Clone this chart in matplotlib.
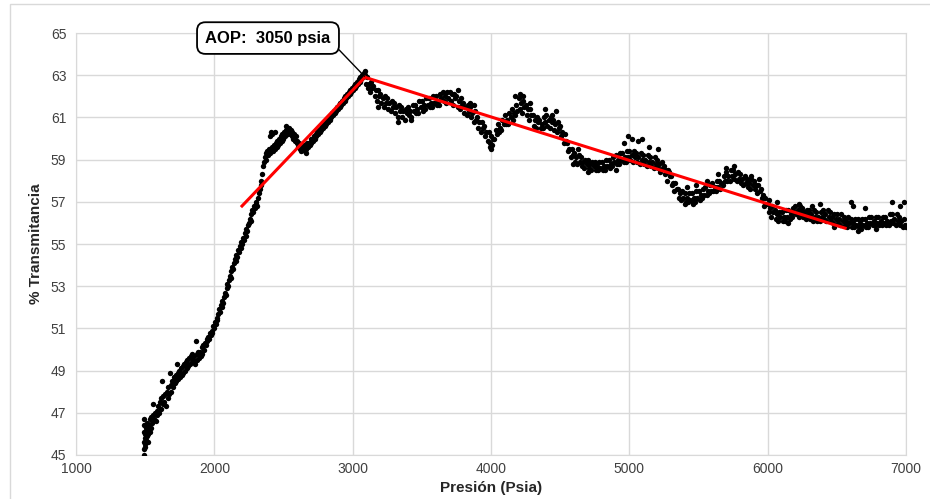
import numpy as np
import matplotlib
matplotlib.use("Agg")
import matplotlib.pyplot as plt
from matplotlib.patches import Rectangle

plt.rcParams['font.family'] = ['Liberation Sans', 'DejaVu Sans']

# Datos (presion psia, % transmitancia)
subida = [
    (1492, 45.0), (1494, 45.3), (1490, 45.6), (1496, 45.8), (1493, 46.1), (1491, 46.4), (1495, 46.7),
    (1498, 45.5), (1500, 46.0), (1502, 45.4), (1504, 46.3), (1506, 45.7), (1509, 46.1), (1512, 45.9),
    (1514, 46.5), (1517, 45.6), (1520, 46.2), (1524, 46.0), (1528, 46.4), (1532, 46.1), (1536, 46.7),
    (1540, 46.3), (1545, 46.8), (1550, 46.5), (1555, 46.9), (1560, 47.4), (1565, 46.7), (1570, 47.0),
    (1576, 46.6), (1582, 47.1), (1588, 46.9), (1594, 47.3), (1600, 47.0), (1606, 47.5), (1612, 47.2),
    (1618, 47.7), (1622, 48.5), (1626, 47.4), (1632, 47.8), (1638, 47.5), (1644, 47.9), (1650, 47.3),
    (1656, 48.0), (1662, 47.7), (1668, 48.2), (1674, 47.9), (1680, 48.9), (1684, 48.3), (1690, 48.0),
    (1696, 48.5), (1702, 48.2), (1708, 48.7), (1714, 48.4), (1720, 48.8), (1726, 48.5), (1730, 49.3),
    (1734, 48.9), (1740, 48.6), (1746, 49.0), (1752, 48.7), (1758, 49.1), (1764, 48.8), (1770, 49.2),
    (1776, 48.9), (1782, 49.3), (1788, 49.0), (1794, 49.4), (1800, 49.1), (1806, 49.5), (1812, 49.2),
    (1818, 49.6), (1824, 49.3), (1830, 49.7), (1836, 49.4), (1842, 49.8), (1848, 49.5), (1854, 49.7),
    (1860, 49.3), (1867, 50.4), (1872, 49.8), (1878, 49.5), (1884, 49.9), (1890, 49.6), (1896, 49.9),
    (1902, 49.7), (1908, 50.1), (1914, 49.8), (1920, 50.2), (1926, 50.0), (1932, 50.3), (1938, 50.2),
    (1944, 50.5), (1950, 50.4), (1956, 50.6), (1962, 50.5), (1968, 50.8), (1974, 50.7), (1980, 50.9),
    (1986, 50.8), (1992, 51.1), (1998, 51.0), (2004, 51.3), (2010, 51.2), (2016, 51.5), (2022, 51.4),
    (2028, 51.7), (2034, 51.9), (2040, 51.8), (2046, 52.1), (2052, 52.0), (2058, 52.3), (2064, 52.2),
    (2070, 52.5), (2076, 52.7), (2082, 52.6), (2088, 52.9), (2094, 53.1), (2100, 53.0), (2106, 53.3),
    (2112, 53.5), (2118, 53.4), (2124, 53.7), (2130, 53.9), (2136, 53.8), (2142, 54.1), (2148, 54.3),
    (2154, 54.2), (2160, 54.5), (2166, 54.4), (2172, 54.7), (2178, 54.6), (2184, 54.9), (2190, 54.8),
    (2196, 55.1), (2202, 55.0), (2208, 55.3), (2214, 55.2), (2220, 55.5), (2226, 55.4), (2232, 55.7),
    (2238, 55.6), (2244, 55.9), (2250, 56.0), (2256, 56.2), (2262, 56.1), (2268, 56.4), (2274, 56.6),
    (2280, 56.5), (2286, 56.8), (2292, 56.7), (2298, 56.9), (2304, 57.0), (2310, 56.8), (2316, 57.2),
    (2322, 57.4), (2328, 57.6), (2334, 57.8), (2340, 58.0), (2346, 58.3), (2352, 58.7), (2358, 58.9),
    (2364, 59.1), (2370, 59.3), (2376, 59.0), (2382, 59.4), (2388, 59.2), (2394, 59.5), (2400, 59.3),
    (2404, 60.1), (2408, 60.3), (2414, 60.2), (2420, 59.6), (2426, 59.4), (2432, 59.7), (2438, 59.5),
    (2444, 59.8), (2450, 59.6), (2456, 59.9), (2462, 59.7), (2468, 60.0), (2474, 59.8), (2480, 60.1),
    (2486, 59.9), (2492, 60.2), (2498, 60.0), (2504, 60.3), (2510, 60.1), (2516, 60.4), (2522, 60.2),
    (2528, 60.4), (2534, 60.2), (2540, 60.5), (2546, 60.3), (2552, 60.4), (2558, 60.1), (2564, 60.3),
    (2570, 60.0), (2576, 60.2), (2582, 59.9), (2588, 60.1), (2594, 59.8), (2600, 59.9), (2606, 59.6),
    (2612, 59.8), (2618, 59.5), (2624, 59.7), (2630, 59.4), (2636, 59.6), (2642, 59.5), (2648, 59.7),
    (2654, 59.4), (2660, 59.6), (2666, 59.5), (2672, 59.8), (2678, 59.6), (2684, 59.8), (2690, 59.7),
    (2696, 60.0), (2702, 59.8), (2708, 60.0), (2714, 59.9), (2720, 60.1), (2726, 60.0), (2732, 60.2),
    (2738, 60.1), (2744, 60.3), (2750, 60.2), (2756, 60.4), (2762, 60.3), (2768, 60.5), (2774, 60.4),
    (2780, 60.6), (2786, 60.5), (2792, 60.7), (2798, 60.6), (2804, 60.8), (2810, 60.7), (2816, 60.9),
    (2822, 60.8), (2828, 61.0), (2834, 60.9), (2840, 61.1), (2846, 61.0), (2852, 61.2), (2858, 61.1),
    (2864, 61.3), (2870, 61.2), (2876, 61.4), (2882, 61.3), (2888, 61.5), (2894, 61.4), (2900, 61.6),
    (2906, 61.5), (2912, 61.7), (2918, 61.6), (2924, 61.8), (2930, 61.7), (2936, 61.9), (2942, 61.8),
    (2948, 62.0), (2954, 61.9), (2960, 62.1), (2966, 62.0), (2972, 62.2), (2978, 62.1), (2984, 62.3),
    (2990, 62.2), (2996, 62.4), (3002, 62.3), (3008, 62.5), (3014, 62.4), (3020, 62.6), (3026, 62.5),
    (3032, 62.7), (3038, 62.6), (3044, 62.8), (3050, 62.7), (3056, 62.9), (3062, 62.8), (3068, 63.0),
    (3074, 62.9), (3080, 63.1), (3086, 63.2), (3092, 63.0), (3096, 62.6),
]

bajada_1 = [
    (3100, 62.9), (3108, 62.4), (3116, 62.6), (3125, 62.2), (3133, 62.7), (3141, 62.4),
    (3150, 62.5), (3158, 62.0), (3166, 62.3), (3175, 61.8), (3183, 62.3), (3191, 62.0),
    (3200, 62.1), (3208, 61.7), (3216, 61.9), (3225, 61.5), (3233, 62.0), (3241, 61.7),
    (3250, 61.9), (3258, 61.4), (3266, 61.7), (3275, 61.3), (3283, 61.8), (3291, 61.5),
    (3300, 61.7), (3308, 61.2), (3316, 61.5), (3325, 61.0), (3333, 61.6), (3341, 61.3),
    (3350, 61.5), (3358, 61.0), (3366, 61.3), (3375, 60.9), (3383, 61.4), (3391, 61.2),
    (3400, 61.5), (3408, 61.1), (3416, 61.3), (3425, 61.0), (3433, 61.6), (3441, 61.3),
    (3450, 61.6), (3458, 61.2), (3466, 61.4), (3475, 61.2), (3483, 61.8), (3491, 61.5),
    (3500, 61.8), (3508, 61.3), (3516, 61.6), (3525, 61.4), (3533, 61.9), (3541, 61.6),
    (3550, 61.9), (3558, 61.5), (3566, 61.7), (3575, 61.5), (3583, 62.0), (3591, 61.7),
    (3600, 62.0), (3608, 61.6), (3616, 61.8), (3625, 61.6), (3633, 62.1), (3641, 61.9),
    (3650, 62.2), (3658, 61.8), (3666, 62.0), (3675, 61.7), (3683, 62.2), (3691, 61.9),
    (3700, 62.2), (3708, 61.8), (3716, 62.1), (3725, 61.6), (3733, 62.1), (3741, 61.9),
    (3750, 62.0), (3758, 61.5), (3766, 61.8), (3775, 61.4), (3783, 61.9), (3791, 61.6),
    (3800, 61.7), (3808, 61.2), (3816, 61.5), (3825, 61.1), (3833, 61.6), (3841, 61.3),
    (3850, 61.5), (3858, 61.0), (3866, 61.2), (3875, 60.8), (3883, 61.3), (3891, 60.9),
    (3900, 61.0), (3908, 60.5), (3916, 60.8), (3925, 60.3), (3933, 60.8), (3941, 60.5),
    (3950, 60.6), (3958, 60.1), (3966, 60.3), (3975, 59.9), (3983, 60.3), (3991, 59.8),
    (4000, 60.1), (4008, 59.7), (4016, 60.0),
]

bajada_2 = [
    (4025, 60.0), (4033, 60.4), (4041, 60.2), (4050, 60.7), (4058, 60.3), (4066, 60.5),
    (4075, 60.4), (4083, 60.9), (4091, 60.7), (4100, 61.1), (4108, 60.7), (4116, 60.9),
    (4125, 60.7), (4133, 61.2), (4141, 61.0), (4150, 61.4), (4158, 60.9), (4166, 61.2),
    (4175, 61.1), (4183, 61.6), (4191, 61.3), (4200, 61.9), (4208, 61.4), (4216, 61.7),
    (4225, 61.2), (4233, 61.8), (4241, 61.5), (4250, 61.6), (4258, 61.1), (4266, 61.4),
    (4275, 60.9), (4283, 61.4), (4291, 61.1), (4300, 61.1), (4308, 60.6), (4316, 60.9),
    (4325, 60.5), (4333, 61.0), (4341, 60.8), (4350, 60.9), (4358, 60.5), (4366, 60.7),
    (4375, 60.5), (4383, 61.0), (4391, 60.8), (4400, 61.1), (4408, 60.6), (4416, 60.9),
    (4425, 60.5), (4433, 61.0), (4441, 60.8), (4450, 60.9), (4458, 60.4), (4466, 60.7),
    (4475, 60.3), (4483, 60.8), (4491, 60.5), (4500, 60.6), (4508, 60.1), (4516, 60.3),
    (4525, 59.8), (4533, 60.2), (4541, 59.9), (4550, 59.8), (4558, 59.4), (4566, 59.5),
    (4575, 59.1), (4583, 59.5), (4591, 59.2), (4600, 59.3), (4608, 58.9), (4616, 59.1),
    (4625, 58.8), (4633, 59.2), (4641, 58.9), (4650, 59.1), (4658, 58.7), (4666, 58.9),
    (4675, 58.6), (4683, 59.0), (4691, 58.8), (4700, 59.0), (4708, 58.6), (4716, 58.8),
    (4725, 58.5), (4733, 58.9), (4741, 58.7), (4750, 58.9), (4758, 58.5), (4766, 58.7),
    (4775, 58.5), (4783, 58.9), (4791, 58.6), (4800, 58.9), (4808, 58.5), (4816, 58.7),
    (4825, 58.5), (4833, 59.0), (4841, 58.7), (4850, 59.0), (4858, 58.6), (4866, 58.8),
    (4875, 58.7), (4883, 59.1), (4891, 58.9), (4900, 59.2), (4908, 58.8), (4916, 59.0),
    (4925, 58.8), (4933, 59.3), (4941, 59.0), (4950, 59.3), (4958, 58.9), (4966, 59.1),
    (4975, 58.9), (4983, 59.4), (4991, 59.1), (5000, 59.4), (5008, 59.0), (5016, 59.2),
]

bajada_3 = [
    (5025, 58.9), (5033, 59.4), (5041, 59.1), (5050, 59.3), (5058, 58.9), (5066, 59.1),
    (5075, 58.8), (5083, 59.3), (5091, 59.0), (5100, 59.2), (5108, 58.8), (5116, 59.0),
    (5125, 58.7), (5133, 59.2), (5141, 58.9), (5150, 59.1), (5158, 58.7), (5166, 58.9),
    (5175, 58.6), (5183, 59.1), (5191, 58.8), (5200, 59.0), (5208, 58.6), (5216, 58.8),
    (5225, 58.4), (5233, 58.9), (5241, 58.6), (5250, 58.7), (5258, 58.3), (5266, 58.5),
    (5275, 58.0), (5283, 58.5), (5291, 58.2), (5300, 58.2), (5308, 57.8), (5316, 57.9),
    (5325, 57.5), (5333, 57.9), (5341, 57.6), (5350, 57.6), (5358, 57.2), (5366, 57.4),
    (5375, 57.1), (5383, 57.5), (5391, 57.2), (5400, 57.4), (5408, 57.0), (5416, 57.2),
    (5425, 57.0), (5433, 57.4), (5441, 57.1), (5450, 57.4), (5458, 57.0), (5466, 57.2),
    (5475, 57.0), (5483, 57.5), (5491, 57.2), (5500, 57.5), (5508, 57.1), (5516, 57.3),
    (5525, 57.2), (5533, 57.6), (5541, 57.3), (5550, 57.7), (5558, 57.3), (5566, 57.5),
    (5575, 57.4), (5583, 57.8), (5591, 57.5), (5600, 57.9), (5608, 57.5), (5616, 57.7),
    (5625, 57.5), (5633, 58.0), (5641, 57.7), (5650, 58.0), (5658, 57.6), (5666, 57.9),
    (5675, 57.8), (5683, 58.2), (5691, 58.0), (5700, 58.4), (5708, 58.0), (5716, 58.2),
    (5725, 58.0), (5733, 58.5), (5741, 58.2), (5750, 58.5), (5758, 58.1), (5766, 58.3),
    (5775, 58.0), (5783, 58.4), (5791, 58.1), (5800, 58.3), (5808, 57.9), (5816, 58.1),
    (5825, 57.8), (5833, 58.2), (5841, 57.9), (5850, 58.1), (5858, 57.7), (5866, 57.9),
    (5875, 57.6), (5883, 58.1), (5891, 57.8), (5900, 58.0), (5908, 57.6), (5916, 57.8),
    (5925, 57.4), (5933, 57.8), (5941, 57.5), (5950, 57.6), (5958, 57.2), (5966, 57.3),
    (5975, 56.8), (5983, 57.2), (5991, 56.9), (6000, 56.9), (6008, 56.5), (6016, 56.7),
]

bajada_4 = [
    (6025, 56.3), (6033, 56.8), (6041, 56.5), (6050, 56.6), (6058, 56.2), (6066, 56.4),
    (6075, 56.1), (6083, 56.5), (6091, 56.3), (6100, 56.5), (6108, 56.1), (6116, 56.3),
    (6125, 56.1), (6133, 56.6), (6141, 56.3), (6150, 56.6), (6158, 56.2), (6166, 56.4),
    (6175, 56.3), (6183, 56.7), (6191, 56.5), (6200, 56.8), (6208, 56.4), (6216, 56.6),
    (6225, 56.3), (6233, 56.8), (6241, 56.5), (6250, 56.7), (6258, 56.3), (6266, 56.5),
    (6275, 56.2), (6283, 56.6), (6291, 56.4), (6300, 56.6), (6308, 56.2), (6316, 56.4),
    (6325, 56.1), (6333, 56.6), (6341, 56.3), (6350, 56.5), (6358, 56.1), (6366, 56.3),
    (6375, 56.1), (6383, 56.5), (6391, 56.3), (6400, 56.6), (6408, 56.2), (6416, 56.4),
    (6425, 56.1), (6433, 56.6), (6441, 56.3), (6450, 56.5), (6458, 56.1), (6466, 56.3),
    (6475, 56.0), (6483, 56.4), (6491, 56.2), (6500, 56.4), (6508, 56.0), (6516, 56.2),
    (6525, 55.9), (6533, 56.4), (6541, 56.1), (6550, 56.3), (6558, 55.9), (6566, 56.1),
    (6575, 55.8), (6583, 56.3), (6591, 56.0), (6600, 56.2), (6608, 55.8), (6616, 56.0),
    (6625, 55.8), (6633, 56.2), (6641, 55.9), (6650, 56.2), (6658, 55.8), (6666, 56.0),
    (6675, 55.7), (6683, 56.2), (6691, 55.9), (6700, 56.2), (6708, 55.8), (6716, 56.0),
    (6725, 55.8), (6733, 56.3), (6741, 56.0), (6750, 56.3), (6758, 55.9), (6766, 56.1),
    (6775, 55.9), (6783, 56.3), (6791, 56.0), (6800, 56.3), (6808, 55.9), (6816, 56.1),
    (6825, 55.9), (6833, 56.3), (6841, 56.0), (6850, 56.3), (6858, 55.9), (6866, 56.1),
    (6875, 55.9), (6883, 56.4), (6891, 56.1), (6900, 56.4), (6908, 56.0), (6916, 56.2),
    (6925, 55.9), (6933, 56.4), (6941, 56.1), (6950, 56.3), (6958, 55.9), (6966, 56.1),
    (6975, 55.8), (6983, 56.2), (6991, 55.9), (6998, 55.8),
]

dispersos = [
    (2440, 60.3), (2520, 60.6), (2660, 59.3), (3180, 61.5), (3330, 60.8), (3420, 60.9),
    (3760, 62.3), (3850, 61.7), (3880, 61.6), (3990, 59.6), (4000, 59.5), (4170, 62.0),
    (4210, 62.1), (4230, 62.0), (4280, 61.7), (4390, 61.4), (4440, 61.1), (4470, 61.3),
    (4590, 58.8), (4630, 59.5), (4700, 58.4), (4900, 58.5), (4960, 59.8), (4990, 60.1),
    (5020, 60.0), (5060, 59.9), (5090, 60.0), (5140, 59.6), (5210, 59.5), (5290, 58.4),
    (5400, 56.9), (5420, 57.7), (5460, 56.9), (5480, 57.8), (5560, 58.0), (5640, 58.3),
    (5700, 58.6), (5760, 58.7), (5880, 58.2), (5940, 58.1), (6010, 57.1), (6070, 57.0),
    (6150, 56.0), (6230, 56.9), (6320, 56.8), (6380, 56.9), (6480, 55.8), (6600, 57.0),
    (6620, 56.8), (6650, 55.6), (6700, 56.7), (6780, 55.7), (6900, 57.0), (6960, 56.8),
    (6985, 57.0),
]

# Lineas de tendencia
tend1_x = [2200, 3089]
tend1_y = [56.8, 62.9]
tend2_x = [3089, 6560]
tend2_y = [62.9, 55.75]

puntos = np.array(subida + bajada_1 + bajada_2 + bajada_3 + bajada_4 + dispersos)

fig = plt.figure(figsize=(9.3, 4.99), dpi=100)
ax = fig.add_axes([76/930, 1 - 455/499, 830/930, 422/499])

ax.scatter(puntos[:, 0], puntos[:, 1], s=15, color='black', linewidths=0, zorder=3)
ax.plot(tend1_x, tend1_y, color='#FF0000', lw=2.2, zorder=4)
ax.plot(tend2_x, tend2_y, color='#FF0000', lw=2.2, zorder=4)

ax.annotate('AOP:  3050 psia', xy=(3085, 62.95), xytext=(2388, 64.76),
            fontsize=12, fontweight='bold', ha='center', va='center',
            annotation_clip=False, zorder=5,
            bbox=dict(boxstyle='round,pad=0.5,rounding_size=0.5', fc='white', ec='black', lw=1.3),
            arrowprops=dict(arrowstyle='-', color='black', lw=1.0, relpos=(1.0, 0.3),
                            shrinkA=0, shrinkB=0))

ax.set_xlim(1000, 7000)
ax.set_ylim(45, 65)
ax.set_xticks(range(1000, 7001, 1000))
ax.set_yticks(range(45, 66, 2))
ax.grid(True, color='#D9D9D9', lw=1.0, zorder=0)
ax.set_axisbelow(True)
for s in ax.spines.values():
    s.set_color('#D9D9D9')
ax.tick_params(length=0, labelsize=10, colors='#404040')
ax.tick_params(axis='x', pad=5)
ax.tick_params(axis='y', pad=7)

ax.set_xlabel('Presión (Psia)', fontsize=11, fontweight='bold', color='#262626')
ax.set_ylabel('% Transmitancia', fontsize=11, fontweight='bold', color='#262626')
ax.xaxis.set_label_coords(0.5, -0.062)
ax.yaxis.set_label_coords(-0.04, 0.5)

# marco exterior del grafico
fig.patches.append(Rectangle((10/930, -0.5), 2, 0.5 + (1 - 3.5/499), transform=fig.transFigure,
                             fill=False, ec='#D9D9D9', lw=1.0))

fig.savefig('out.png', dpi=100)
